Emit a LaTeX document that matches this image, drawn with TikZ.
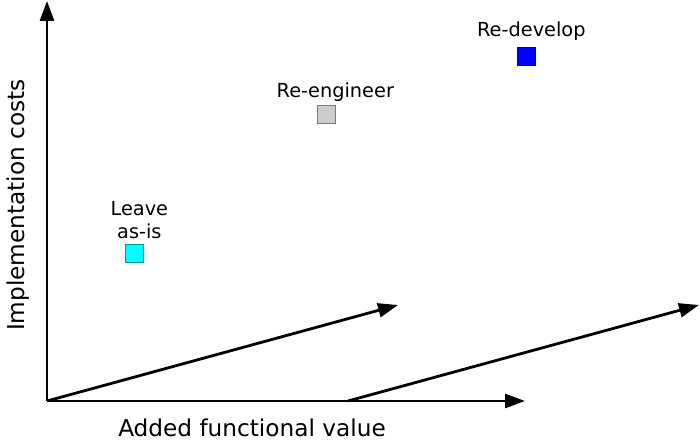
\documentclass[tikz,border=0pt]{standalone}
\usepackage{fontspec}
\setmainfont{DejaVu Sans}
\usetikzlibrary{positioning, arrows.meta}

\definecolor{keepcolor}{RGB}{0,255,255}
\definecolor{fixcolor}{RGB}{204,204,204}
\definecolor{newcolor}{RGB}{0,0,255}

\begin{document}
\begin{tikzpicture}[x=0.75pt, y=0.75pt, >={Triangle[length=15pt, width=10.5pt]},
  font=\fontsize{14.5}{17}\selectfont,
  option cell/.style={draw=#1!60!black, fill=#1, line width=0.5pt, minimum size=13.5pt, inner sep=0pt},
  option text/.style={inner sep=0pt, text depth=0pt, align=center},
  axis text/.style={font=\fontsize{17.4}{20}\selectfont}]

\useasboundingbox (0,0) rectangle (700,442);

\coordinate (origin) at (47,41);
\coordinate (cost-end) at (47,441);
\coordinate (value-end) at (525,41);
\coordinate (shift-start) at (348,41);
\coordinate (gain-end) at (398,137);
\coordinate (shift-end) at (699,137);

\draw [->, line width=2.1pt] (origin) -- (cost-end);
\draw [->, line width=2.1pt] (origin) -- (value-end);
\draw [->, line width=2.1pt] (origin) -- (gain-end);
\draw [->, line width=2.1pt] (shift-start) -- (shift-end);

\node [axis text, rotate=90] (cost-label) at (18,237) {Implementation costs};
\node [axis text] (value-label) at (252,14) {Added functional value};

\foreach \m/\c/\x/\y in {leave/keepcolor/134/189, reengineer/fixcolor/326/328, redevelop/newcolor/526/386}
  \node [option cell=\c] (\m) at (\x,\y) {};

\foreach \m/\l/\g/\s in {leave/{Leave\\as-is}/4pt/4pt, reengineer/Re-engineer/5pt/7pt, redevelop/Re-develop/7.5pt/4pt}
  \node [option text, above=\g of \m, xshift=\s] (\m-label) {\l};

\end{tikzpicture}
\end{document}
